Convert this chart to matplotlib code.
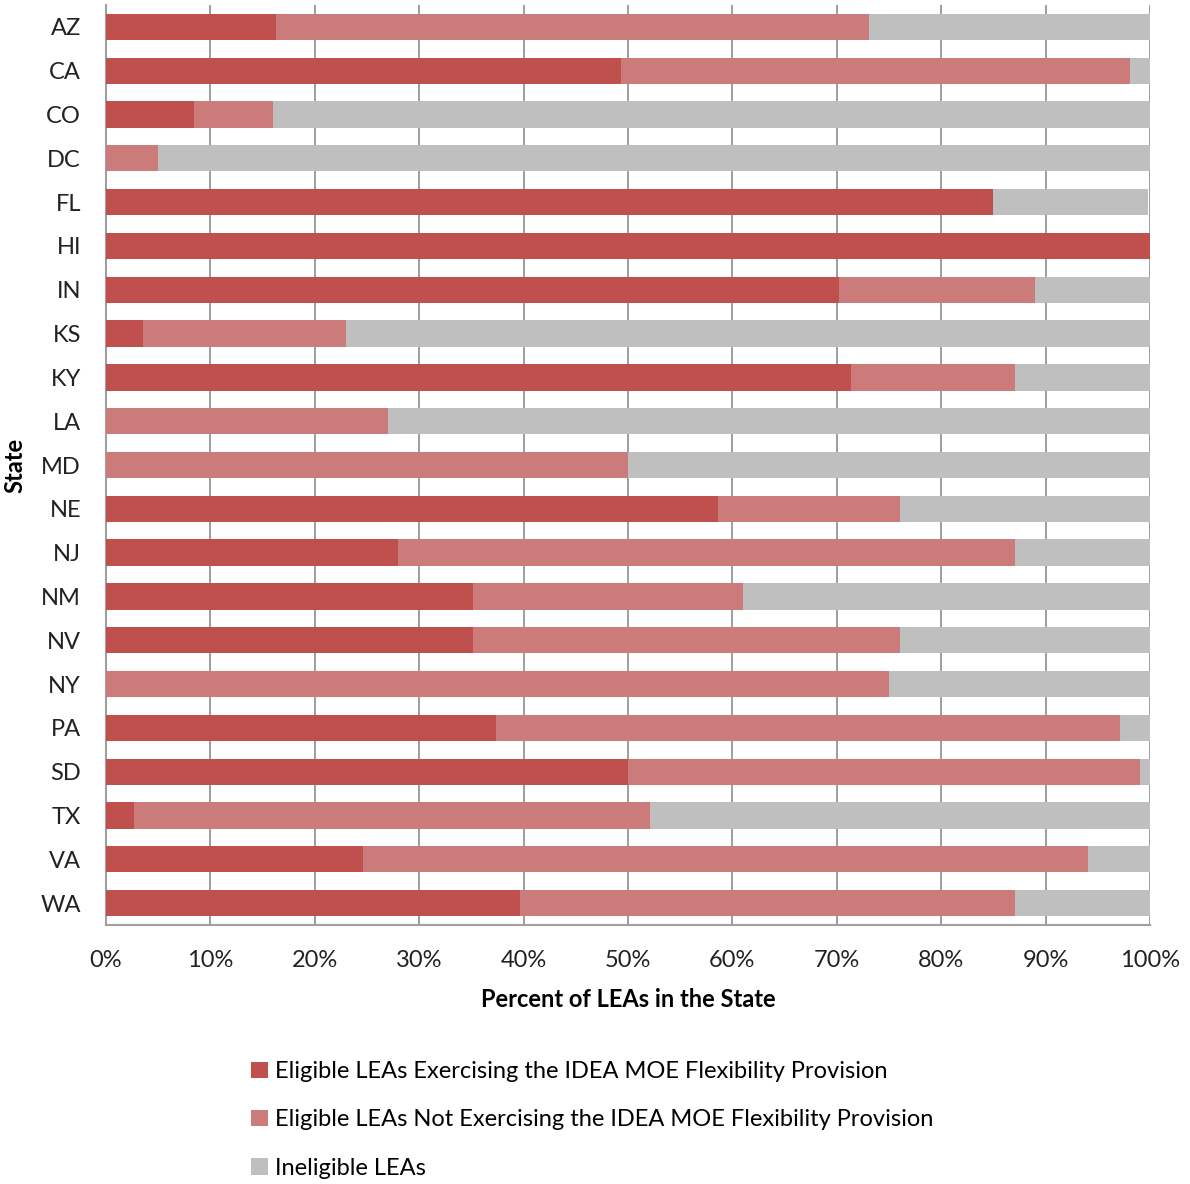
import numpy as np
import matplotlib
matplotlib.use("Agg")
import matplotlib.pyplot as plt
from matplotlib.ticker import PercentFormatter

plt.rcParams['font.family'] = ['Lato', 'DejaVu Sans']

states = ['AZ', 'CA', 'CO', 'DC', 'FL', 'HI', 'IN', 'KS', 'KY', 'LA', 'MD',
          'NE', 'NJ', 'NM', 'NV', 'NY', 'PA', 'SD', 'TX', 'VA', 'WA']

# percent of LEAs exercising the flexibility provision
exercising = [16.3, 49.3, 8.4, 0.0, 85.0, 100.0, 70.2, 3.5, 71.4, 0.0, 0.0,
              58.6, 28.0, 35.2, 35.2, 0.0, 37.4, 50.0, 2.7, 24.6, 39.7]
# eligible but not exercising
not_exercising = [56.8, 48.8, 7.6, 5.0, 0.0, 0.0, 18.8, 19.5, 15.7, 27.0, 50.0,
                  17.5, 59.1, 25.8, 40.9, 75.0, 59.7, 49.0, 49.4, 69.5, 47.4]
# ineligible
ineligible = [26.9, 1.9, 84.0, 95.0, 14.8, 0.0, 11.0, 77.0, 12.9, 73.0, 50.0,
              23.9, 12.9, 39.0, 23.9, 25.0, 2.9, 1.0, 47.9, 5.9, 12.9]

series_labels = ['Eligible LEAs Exercising the IDEA MOE Flexibility Provision',
                 'Eligible LEAs Not Exercising the IDEA MOE Flexibility Provision',
                 'Ineligible LEAs']
colors = ['#C0504D', '#CA7B7A', '#BFBFBF']

fig = plt.figure(figsize=(11.9, 11.84), dpi=100)
ax = fig.add_axes([106 / 1190, 1 - 925 / 1184, 1044 / 1190, 920 / 1184])

y = np.arange(len(states))
left = np.zeros(len(states))
for vals, lab, col in zip([exercising, not_exercising, ineligible], series_labels, colors):
    vals = np.array(vals)
    ax.barh(y, vals, left=left, height=0.6, color=col, label=lab, zorder=3)
    left += vals

ax.set_xlim(0, 100)
ax.set_ylim(len(states) - 0.5, -0.5)
ax.set_yticks(y)
ax.set_yticklabels(states)
ax.set_xticks(np.arange(0, 101, 10))
ax.xaxis.set_major_formatter(PercentFormatter(decimals=0))
ax.tick_params(axis='both', length=0, labelsize=17, colors='#222222')
ax.tick_params(axis='x', pad=18)
ax.tick_params(axis='y', pad=18)
ax.grid(axis='x', color='#8C8C8C', linewidth=1.2, zorder=0)

for s in ['top', 'right']:
    ax.spines[s].set_visible(False)
for s in ['left', 'bottom']:
    ax.spines[s].set_color('#A0A0A0')
    ax.spines[s].set_linewidth(1.5)

ax.set_xlabel('Percent of LEAs in the State', fontsize=17, fontweight='bold', labelpad=12)
ax.set_ylabel('State', fontsize=17, fontweight='bold', labelpad=10)

handles, labels = ax.get_legend_handles_labels()
fig.legend(handles, labels, loc='upper left', bbox_to_anchor=(230 / 1190, 1 - 1040 / 1184),
           frameon=False, fontsize=17, handlelength=0.7, handleheight=0.7,
           handletextpad=0.3, labelspacing=1.15)

fig.savefig('out.png', dpi=100)
